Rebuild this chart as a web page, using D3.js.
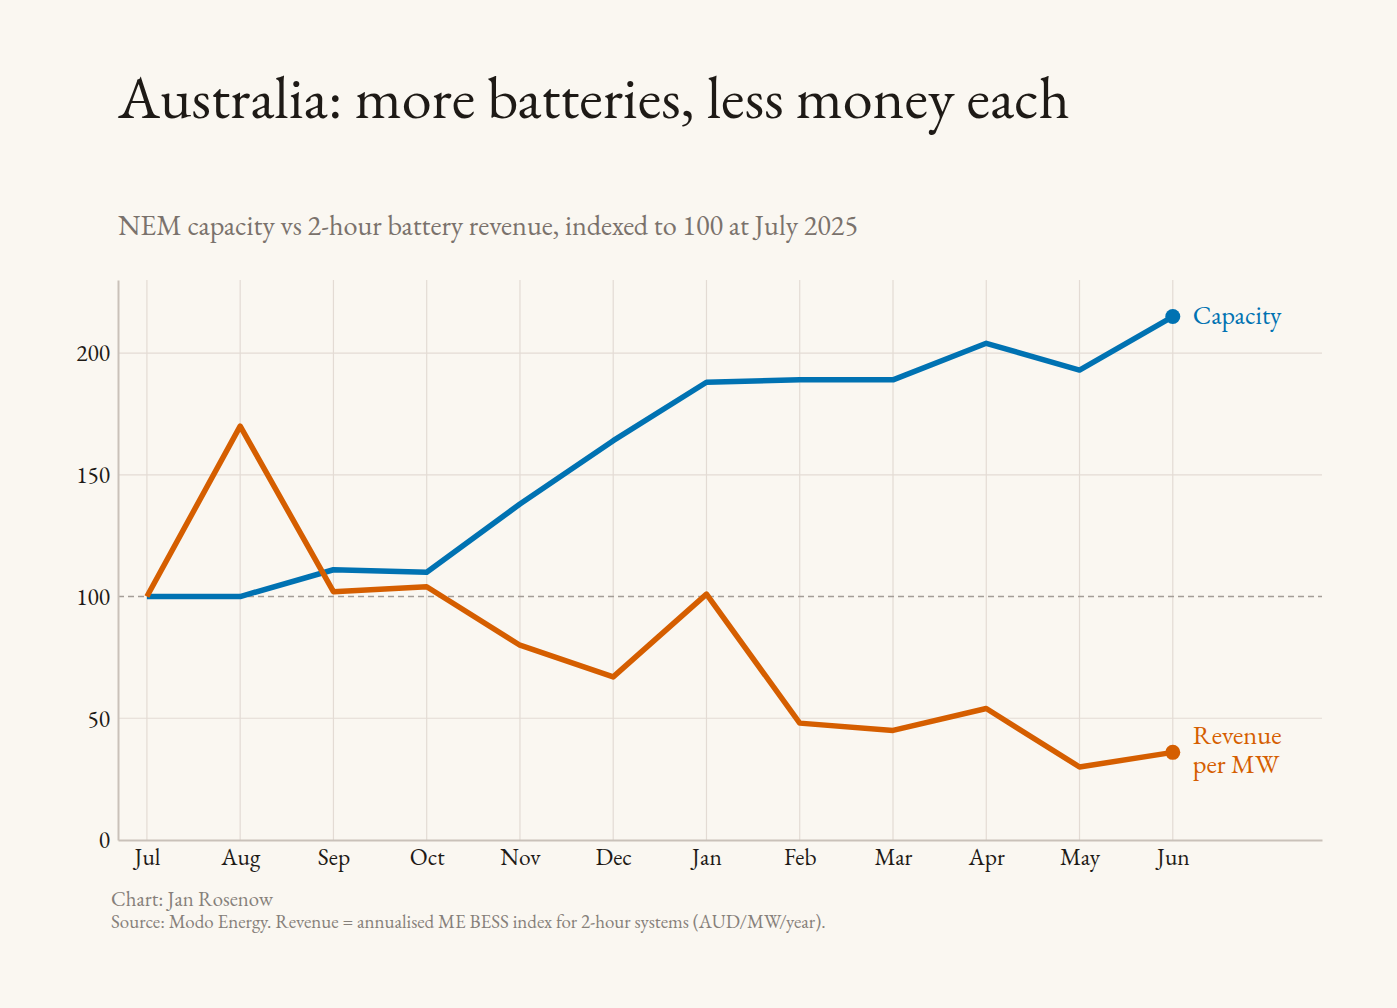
<!DOCTYPE html>
<html>
<head>
<meta charset="utf-8">
<script src="https://cdn.jsdelivr.net/npm/d3@7"></script>
<style>
  html, body { margin: 0; padding: 0; background: #faf7f1; }
  svg { display: block; }
  text { font-family: "EB Garamond", "Liberation Serif", "DejaVu Serif", serif; }
</style>
</head>
<body>
<svg id="chart" width="1397" height="1008"></svg>
<script>
// data, indexed to 100 at July 2025
const months = ["Jul", "Aug", "Sep", "Oct", "Nov", "Dec", "Jan", "Feb", "Mar", "Apr", "May", "Jun"];
const capacity = [100, 100, 111, 110, 138, 164, 188, 189, 189, 204, 193, 215];
const revenue = [100, 170, 102, 104, 80, 67, 101, 48, 45, 54, 30, 36];
const yTicks = [0, 50, 100, 150, 200];

const blue = "#0072b2", orange = "#d55e00";

const svg = d3.select("#chart");
const margin = {left: 118, right: 75, top: 280, bottom: 168};
const W = 1397, H = 1008;

// x: month index, padded on both sides
const x = d3.scaleLinear()
  .domain([-0.31, 12.6])
  .range([margin.left, W - margin.right]);
const y = d3.scaleLinear()
  .domain([0, 230])
  .range([H - margin.bottom, margin.top]);

svg.append("rect").attr("width", W).attr("height", H).attr("fill", "#faf7f1");

// titles
const title = svg.append("text")
  .attr("x", 118).attr("y", 118)
  .attr("fill", "#1e1a16")
  .style("font-size", "52px")
  .text("Australia: more batteries, less money each");
const sub = svg.append("text")
  .attr("x", 118).attr("y", 235)
  .attr("fill", "#7a726c")
  .style("font-size", "25px")
  .text("NEM capacity vs 2-hour battery revenue, indexed to 100 at July 2025");

// fit fallback font to the original text widths
function fit(sel, target) {
  const w = sel.node().getComputedTextLength();
  const fs = parseFloat(sel.style("font-size"));
  sel.style("font-size", (fs * target / w) + "px");
}
fit(title, 952);
fit(sub, 740);

// grid
const g = svg.append("g");
g.selectAll("line.vgrid")
  .data(months)
  .enter().append("line")
  .attr("class", "vgrid")
  .attr("x1", (d, i) => x(i)).attr("x2", (d, i) => x(i))
  .attr("y1", y(230)).attr("y2", y(0))
  .attr("stroke", "#e3dbd4").attr("stroke-width", 1.2);
g.selectAll("line.hgrid")
  .data(yTicks.filter(d => d !== 0 && d !== 100))
  .enter().append("line")
  .attr("class", "hgrid")
  .attr("x1", x.range()[0]).attr("x2", x.range()[1])
  .attr("y1", d => y(d)).attr("y2", d => y(d))
  .attr("stroke", "#e3dbd4").attr("stroke-width", 1.2);

// baseline 100
g.append("line")
  .attr("x1", x.range()[0]).attr("x2", x.range()[1])
  .attr("y1", y(100)).attr("y2", y(100))
  .attr("stroke", "#a39d97").attr("stroke-width", 1.6)
  .attr("stroke-dasharray", "6,4");

// axes
const yAxis = svg.append("g")
  .attr("transform", `translate(${margin.left},0)`)
  .call(d3.axisLeft(y).tickValues(yTicks).tickSize(0).tickPadding(8));
const xAxis = svg.append("g")
  .attr("transform", `translate(0,${y(0)})`)
  .call(d3.axisBottom(x).tickValues(d3.range(months.length)).tickFormat(i => months[i]).tickSize(0).tickPadding(8));
[xAxis, yAxis].forEach(a => {
  a.select(".domain").attr("stroke", "#c9c1b9").attr("stroke-width", 2);
  a.selectAll("text")
    .style("font-size", "23.5px")
    .style("font-family", null)
    .attr("fill", "#1e1a16");
});
yAxis.selectAll("text").attr("dy", "0.33em");

// lines
const line = d3.line()
  .x((d, i) => x(i))
  .y(d => y(d));

[[capacity, blue], [revenue, orange]].forEach(([vals, col]) => {
  svg.append("path")
    .datum(vals)
    .attr("d", line)
    .attr("fill", "none")
    .attr("stroke", col)
    .attr("stroke-width", 5.5)
    .attr("stroke-linejoin", "round");
  const last = vals.length - 1;
  svg.append("circle")
    .attr("cx", x(last)).attr("cy", y(vals[last]))
    .attr("r", 7.5)
    .attr("fill", col);
});

// end labels
const lastI = months.length - 1;
svg.append("text")
  .attr("x", x(lastI) + 20).attr("y", y(capacity[lastI]))
  .attr("dy", "0.28em")
  .attr("fill", blue)
  .style("font-size", "26px")
  .text("Capacity");
const revLab = svg.append("text")
  .attr("x", x(lastI) + 20).attr("y", y(revenue[lastI]))
  .attr("fill", orange)
  .style("font-size", "26.5px");
revLab.append("tspan").attr("x", x(lastI) + 20).attr("dy", "-0.33em").text("Revenue");
revLab.append("tspan").attr("x", x(lastI) + 20).attr("dy", "1.1em").text("per MW");

// footer
const credit = svg.append("text")
  .attr("x", 111).attr("y", 906)
  .attr("fill", "#86807a")
  .style("font-size", "17px")
  .text("Chart: Jan Rosenow");
fit(credit, 162);
const src = svg.append("text")
  .attr("x", 111).attr("y", 928)
  .attr("fill", "#86807a")
  .style("font-size", "16px")
  .text("Source: Modo Energy. Revenue = annualised ME BESS index for 2-hour systems (AUD/MW/year).");
fit(src, 715);
</script>
</body>
</html>
